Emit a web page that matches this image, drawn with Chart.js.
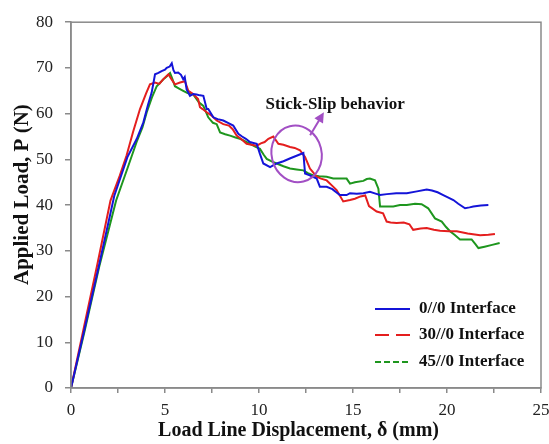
<!DOCTYPE html>
<html>
<head>
<meta charset="utf-8">
<script src="https://cdn.jsdelivr.net/npm/chart.js@4.4.1/dist/chart.umd.min.js"></script>
<style>
  html, body { margin: 0; padding: 0; background: #fff; }
  #wrap { width: 549px; height: 444px; }
</style>
</head>
<body>
<div id="wrap"><canvas id="chart" width="549" height="444"></canvas></div>
<script>
// series names + colours (legend order)
const seriesNames = ["0//0 Interface", "30//0 Interface", "45//0 Interface"]
const seriesColors = ["#1414d8", "#e41e1e", "#1e961e"]
const legendDash = [[], [14, 7], [6, 3]]

// 0//0 interface
const disp0 = [0, 0.7, 1.5, 2.3, 3.0, 3.5, 3.85, 4.1, 4.29, 4.47, 4.65, 4.82, 5.0, 5.09, 5.25, 5.36, 5.45, 5.53, 5.7, 5.85, 5.97, 6.05, 6.15, 6.33, 6.5, 6.68, 6.86, 7.04, 7.22, 7.3, 7.57, 7.8, 8.1, 8.35, 8.63, 8.9, 9.1, 9.3, 9.52, 9.7, 9.88, 10.05, 10.23, 10.59, 10.94, 11.3, 11.7, 12.0, 12.36, 12.45, 12.7, 13.07, 13.24, 13.6, 13.9, 14.3, 14.66, 14.84, 15.2, 15.55, 15.9, 16.2, 16.44, 16.8, 17.3, 17.86, 18.4, 18.92, 19.2, 19.5, 19.8, 20.1, 20.34, 20.6, 20.96, 21.2, 21.4, 21.8, 22.2]
const load0 = [0, 12.5, 27, 42, 50.5, 54.5, 58.1, 62, 64.6, 68.6, 68.9, 69.3, 69.6, 70, 70.3, 71, 69.5, 68.9, 69, 68.5, 67.5, 68, 65.3, 63.9, 64.3, 64.2, 64, 63.9, 61, 61, 59.2, 58.8, 58.5, 58, 57.4, 55.6, 55, 54.5, 53.8, 53.6, 53.4, 51.2, 49.1, 48.3, 49.1, 49.6, 50.3, 50.8, 51.4, 46.9, 46.5, 45.8, 44, 44, 43.5, 42.2, 42.2, 42.6, 42.5, 42.6, 42.9, 42.5, 42.2, 42.4, 42.6, 42.6, 43, 43.4, 43.2, 42.8, 42.2, 41.6, 41.1, 40.3, 39.3, 39.5, 39.7, 39.9, 40.0]

// 30//0 interface
const disp30 = [0, 0.7, 1.4, 2.1, 2.6, 2.96, 3.3, 3.67, 4.0, 4.2, 4.47, 4.7, 4.9, 5.18, 5.35, 5.53, 5.8, 6.06, 6.24, 6.5, 6.76, 6.86, 7.0, 7.22, 7.5, 7.75, 8.1, 8.4, 8.6, 8.81, 9.1, 9.34, 9.6, 9.88, 10.1, 10.3, 10.5, 10.76, 11.03, 11.3, 11.65, 11.9, 12.18, 12.45, 12.71, 13.07, 13.3, 13.6, 13.9, 14.13, 14.48, 14.84, 15.1, 15.4, 15.65, 15.85, 16.26, 16.6, 16.79, 17.0, 17.32, 17.7, 18.0, 18.2, 18.6, 18.92, 19.3, 19.63, 20.1, 20.52, 21.1, 21.76, 22.2, 22.55]
const load30 = [0, 13.5, 27, 41, 46.5, 50.9, 56, 61, 64.5, 66.4, 66.8, 66.5, 67.5, 68.6, 67.5, 66.4, 66.8, 67.1, 65, 64.3, 63.2, 61.4, 61, 60.3, 59.5, 58.5, 57.7, 57.4, 56.6, 55.2, 54.3, 53.4, 53.2, 53, 53.5, 53.8, 54.5, 55, 53.4, 53.2, 52.7, 52.5, 52, 50.5, 48, 46.2, 45.8, 45.4, 44.2, 43.3, 40.8, 41.1, 41.4, 41.9, 42.1, 39.8, 38.6, 38.2, 36.4, 36.2, 36.1, 36.2, 35.8, 34.6, 34.9, 35, 34.6, 34.4, 34.3, 34.3, 33.8, 33.4, 33.5, 33.7]

// 45//0 interface
const disp45 = [0, 0.7, 1.5, 2.4, 3.0, 3.49, 3.8, 4.03, 4.3, 4.56, 4.75, 4.91, 5.1, 5.27, 5.4, 5.53, 5.75, 5.97, 6.2, 6.5, 6.8, 7.04, 7.3, 7.55, 7.75, 7.93, 8.2, 8.46, 8.75, 8.99, 9.25, 9.52, 9.8, 10.05, 10.25, 10.41, 10.7, 10.94, 11.3, 11.65, 12.0, 12.36, 12.6, 12.89, 13.2, 13.6, 13.95, 14.3, 14.66, 14.84, 15.1, 15.55, 15.73, 15.9, 16.17, 16.35, 16.44, 16.79, 17.14, 17.5, 17.86, 18.3, 18.65, 19.0, 19.36, 19.72, 19.95, 20.16, 20.4, 20.69, 21.0, 21.31, 21.5, 21.67, 22.0, 22.4, 22.8]
const load45 = [0, 12, 26.5, 41, 48, 53.8, 57, 60.3, 63.5, 66, 66.8, 67.5, 68.2, 68.9, 67.5, 66, 65.5, 65, 64.5, 64.2, 62.5, 61.7, 59.2, 58, 57.7, 55.9, 55.5, 55.2, 54.8, 54.5, 54, 53.4, 52.8, 52.3, 51, 50.1, 49.5, 49.1, 48.5, 48, 47.8, 47.6, 47, 46.5, 46.3, 46.2, 45.8, 45.8, 45.8, 44.7, 45, 45.3, 45.7, 45.8, 45.4, 43.6, 39.7, 39.7, 39.7, 40, 40, 40.3, 40.2, 39.3, 37.1, 36.4, 35.2, 34.3, 33.5, 32.5, 32.5, 32.5, 31.5, 30.6, 30.9, 31.3, 31.7]

// annotation anchors (data coords)
const noteText = "Stick-Slip behavior"
const noteAt = [14.05, 62.0]
const ellipseAt = [12.0, 51.2]
const arrowFrom = [12.72, 55.3]
const arrowTo = [13.45, 60.3]

const serif = "'Liberation Serif', 'Times New Roman', serif"
const axisGray = "#8a8a8a"

function toPoints(xs, ys) {
  return xs.map((x, i) => ({x: x, y: ys[i]}))
}

const seriesData = [toPoints(disp0, load0), toPoints(disp30, load30), toPoints(disp45, load45)]

// frame, legend inside plot and stick-slip note
const extras = {
  id: "extras",
  afterDatasetsDraw(chart) {
    const {ctx, chartArea: a, scales: {x, y}} = chart
    ctx.save()
    ctx.strokeStyle = axisGray
    ctx.lineWidth = 1.5
    ctx.strokeRect(a.left, a.top, a.right - a.left, a.bottom - a.top)

    // legend
    const rows = [a.bottom - 79, a.bottom - 53, a.bottom - 26]
    ctx.font = "bold 17px " + serif
    ctx.textBaseline = "middle"
    ctx.textAlign = "left"
    seriesNames.forEach((name, i) => {
      ctx.beginPath()
      ctx.setLineDash(legendDash[i])
      ctx.strokeStyle = seriesColors[i]
      ctx.lineWidth = 2
      ctx.moveTo(a.right - 166, rows[i])
      ctx.lineTo(a.right - 131, rows[i])
      ctx.stroke()
      ctx.setLineDash([])
      ctx.fillStyle = "#111"
      ctx.fillText(name, a.right - 122, rows[i])
    })

    // stick-slip ellipse + arrow
    const purple = "#a24fc4"
    ctx.strokeStyle = purple
    ctx.fillStyle = purple
    ctx.lineWidth = 2
    ctx.beginPath()
    ctx.ellipse(x.getPixelForValue(ellipseAt[0]), y.getPixelForValue(ellipseAt[1]), 25, 28.5, -0.24, 0, Math.PI * 2)
    ctx.stroke()
    const x0 = x.getPixelForValue(arrowFrom[0]), y0 = y.getPixelForValue(arrowFrom[1])
    const x1 = x.getPixelForValue(arrowTo[0]), y1 = y.getPixelForValue(arrowTo[1])
    const ang = Math.atan2(y1 - y0, x1 - x0)
    ctx.beginPath()
    ctx.moveTo(x0, y0)
    ctx.lineTo(x1 - 6 * Math.cos(ang), y1 - 6 * Math.sin(ang))
    ctx.stroke()
    ctx.beginPath()
    ctx.moveTo(x1, y1)
    ctx.lineTo(x1 - 10 * Math.cos(ang) + 5 * Math.sin(ang), y1 - 10 * Math.sin(ang) - 5 * Math.cos(ang))
    ctx.lineTo(x1 - 10 * Math.cos(ang) - 5 * Math.sin(ang), y1 - 10 * Math.sin(ang) + 5 * Math.cos(ang))
    ctx.closePath()
    ctx.fill()

    ctx.fillStyle = "#111"
    ctx.textAlign = "center"
    ctx.font = "bold 17px " + serif
    ctx.fillText(noteText, x.getPixelForValue(noteAt[0]), y.getPixelForValue(noteAt[1]))
    ctx.restore()
  }
}

new Chart(document.getElementById("chart").getContext("2d"), {
  type: "scatter",
  data: {
    datasets: seriesNames.map((name, i) => ({
      label: name,
      data: seriesData[i],
      showLine: true,
      borderColor: seriesColors[i],
      backgroundColor: seriesColors[i],
      borderWidth: 2,
      pointRadius: 0,
      tension: 0
    }))
  },
  options: {
    responsive: false,
    animation: false,
    layout: {padding: {top: 20, right: 0, bottom: 0, left: 0}},
    plugins: {legend: {display: false}, tooltip: {enabled: false}},
    scales: {
      x: {
        type: "linear",
        min: 0, max: 25,
        afterFit: s => { s.height = 56; s.paddingRight = 8 },
        ticks: {
          stepSize: 2.5,
          padding: 7,
          color: "#222",
          font: {family: serif, size: 17},
          maxRotation: 0,
          callback: v => (v % 5 === 0 ? v : "")
        },
        grid: {drawOnChartArea: false, drawTicks: true, tickLength: 5, color: axisGray, lineWidth: 1.5},
        border: {color: axisGray, width: 1.5},
        title: {
          display: true,
          text: "Load Line Displacement, δ (mm)   ",
          color: "#111",
          font: {family: serif, size: 20, weight: "bold"},
          padding: {top: 0, bottom: 1}
        }
      },
      y: {
        min: 0, max: 80,
        afterFit: s => { s.width = 71 },
        ticks: {
          stepSize: 5,
          padding: 12,
          color: "#222",
          font: {family: serif, size: 17},
          callback: v => (v % 10 === 0 ? v : "")
        },
        grid: {drawOnChartArea: false, drawTicks: true, tickLength: 6, color: axisGray, lineWidth: 1.5},
        border: {color: axisGray, width: 1.5},
        title: {
          display: true,
          text: "    Applied Load, P (N)",
          color: "#111",
          font: {family: serif, size: 21, weight: "bold"},
          padding: {top: 10, bottom: 0}
        }
      }
    }
  },
  plugins: [extras]
})
</script>
</body>
</html>
